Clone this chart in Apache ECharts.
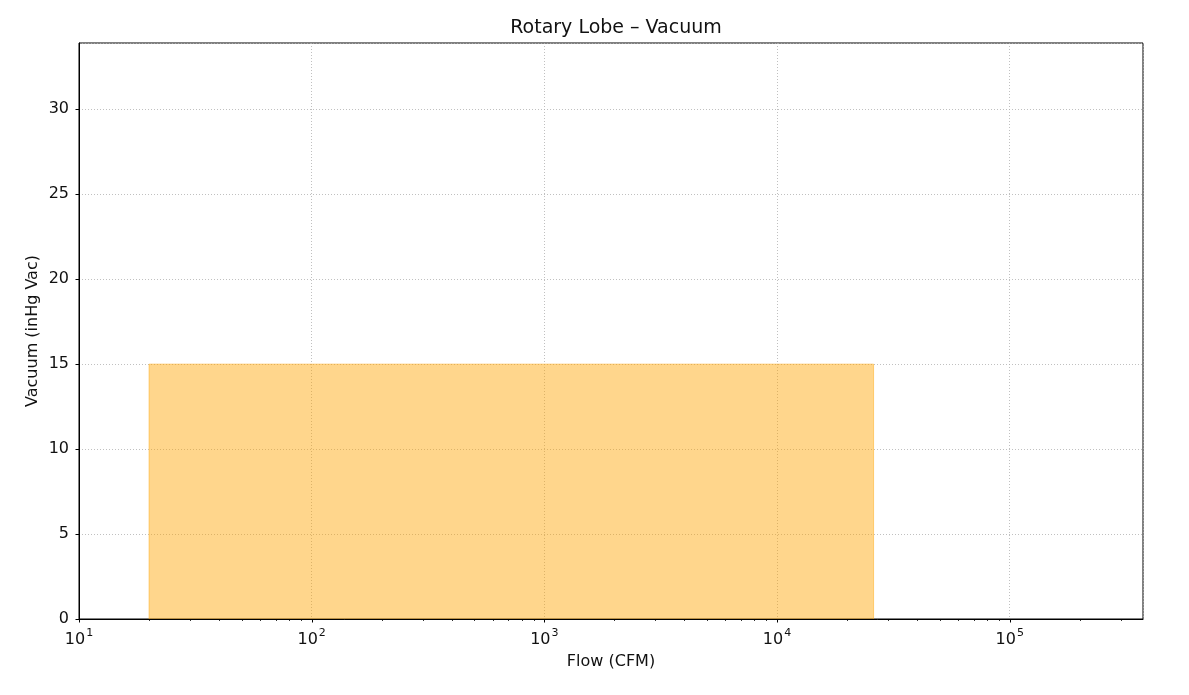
<!DOCTYPE html>
<html>
<head>
<meta charset="utf-8">
<script src="https://cdn.jsdelivr.net/npm/echarts@6/dist/echarts.min.js"></script>
<style>
html,body{margin:0;padding:0;background:#fff;}
#chart{width:1189px;height:695px;}
</style>
</head>
<body>
<div id="chart"></div>
<script>
// ---- data ----
const flowRange = [20, 26000];      // CFM
const vacuumMax = 15;               // inHg Vac
const xLimits = [10, 374000];
const yLimits = [0, 33.9];
const yTicks = [0, 5, 10, 15, 20, 25, 30];
const xMajorTicks = [10, 100, 1000, 10000, 100000];
const xMinorTicks = [];
for (let d = 10; d <= 100000; d *= 10) {
  for (let m = 2; m <= 9; m++) {
    const v = m * d;
    if (v < xLimits[1]) xMinorTicks.push(v);
  }
}

const areaData = [
  [flowRange[0], 0],
  [flowRange[0], vacuumMax],
  [flowRange[1], vacuumMax],
  [flowRange[1], 0]
];

const FONT = 'DejaVu Sans';
const TXT = '#111';

const tickData = xMajorTicks.map(v => [v, 0, 1]).concat(xMinorTicks.map(v => [v, 0, 0]));

const chart = echarts.init(document.getElementById('chart'));
chart.setOption({
  animation: false,
  backgroundColor: '#fff',
  title: {
    text: 'Rotary Lobe – Vacuum',
    left: 611, top: 14, textAlign: 'center',
    textStyle: {fontFamily: FONT, fontSize: 19, fontWeight: 'normal', color: TXT}
  },
  grid: {
    left: 79, right: 46, top: 43, bottom: 76,
    show: true, borderColor: '#000', borderWidth: 1, backgroundColor: 'transparent'
  },
  xAxis: {
    type: 'log', logBase: 10,
    min: xLimits[0], max: xLimits[1],
    name: 'Flow (CFM)', nameLocation: 'middle', nameGap: 35,
    nameMoveOverlap: false,
    nameTextStyle: {fontFamily: FONT, fontSize: 16, color: TXT},
    axisLine: {show: true, onZero: false, lineStyle: {color: '#000', width: 1}},
    axisTick: {show: false},
    minorTick: {show: false},
    axisLabel: {
      margin: 9, fontFamily: FONT, fontSize: 16, color: TXT,
      showMaxLabel: false,
      formatter: function (v) {
        const e = Math.log10(v);
        const r = Math.round(e);
        if (Math.abs(e - r) > 1e-6) return '';
        return '{b|10}{s|' + r + '}';
      },
      rich: {
        b: {fontFamily: FONT, fontSize: 16, color: TXT, verticalAlign: 'bottom', lineHeight: 20},
        s: {fontFamily: FONT, fontSize: 11, color: TXT, verticalAlign: 'top', lineHeight: 20, padding: [0, 0, 0, 1]}
      }
    },
    splitLine: {show: true, lineStyle: {color: '#b0b0b0', type: [1, 2], width: 0.8}}
  },
  yAxis: {
    type: 'value', min: yLimits[0], max: yLimits[1], interval: 5,
    name: 'Vacuum (inHg Vac)', nameLocation: 'middle', nameGap: 38,
    nameMoveOverlap: false,
    nameTextStyle: {fontFamily: FONT, fontSize: 16, color: TXT},
    axisLine: {show: true, lineStyle: {color: '#000', width: 1}},
    axisTick: {show: false},
    axisLabel: {
      margin: 10, fontFamily: FONT, fontSize: 16, color: TXT,
      showMaxLabel: false,
      formatter: function (v) { return yTicks.indexOf(v) >= 0 ? String(v) : ''; }
    },
    splitLine: {show: true, lineStyle: {color: '#b0b0b0', type: [1, 2], width: 0.8}}
  },
  series: [
    {
      type: 'line',
      data: areaData,
      symbol: 'none',
      lineStyle: {color: 'rgba(255,165,0,0.45)', width: 1},
      areaStyle: {color: 'rgba(255,165,0,0.45)', opacity: 1, origin: 'start'},
      z: 1
    },
    {
      type: 'custom',
      clip: false,
      silent: true,
      data: tickData,
      encode: {x: 0, y: 1},
      renderItem: function (params, api) {
        const p = api.coord([api.value(0), api.value(1)]);
        const len = api.value(2) ? 3.5 : 2;
        return {
          type: 'line',
          shape: {x1: Math.round(p[0]) + 0.5, y1: p[1], x2: Math.round(p[0]) + 0.5, y2: p[1] + len},
          style: {stroke: '#000', lineWidth: api.value(2) ? 1 : 0.8}
        };
      },
      z: 5
    },
    {
      type: 'custom',
      clip: false,
      silent: true,
      data: yTicks.map(v => [xLimits[0], v]),
      encode: {x: 0, y: 1},
      renderItem: function (params, api) {
        const p = api.coord([api.value(0), api.value(1)]);
        const y = Math.round(p[1]) + 0.5;
        return {
          type: 'line',
          shape: {x1: p[0], y1: y, x2: p[0] - 3.5, y2: y},
          style: {stroke: '#000', lineWidth: 1}
        };
      },
      z: 5
    }
  ]
});
</script>
</body>
</html>
